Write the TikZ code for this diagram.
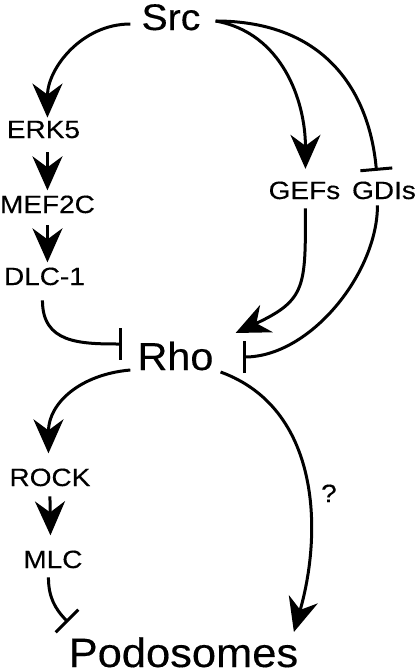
\documentclass[tikz,border=0pt]{standalone}
\usepackage{fontspec}
\setmainfont{Liberation Sans}
\newfontfamily\protfont{Liberation Sans}[FakeStretch=1.12,FakeBold=0.3]
\newfontfamily\hubfont{Liberation Sans}[FakeStretch=1.06,FakeBold=0.3]
\usetikzlibrary{arrows.meta}

\tikzset{
  prot/.style={inner sep=0pt, anchor=base, font=\protfont\fontsize{25}{30}\selectfont},
  hub/.style={inner sep=0pt, anchor=base, font=\hubfont\fontsize{#1}{#1}\selectfont},
  act/.style={line width=3pt, -{Stealth[length=34pt,width=30pt,inset=11pt]}},
  inh/.style={line width=3pt, -{Bar[width=32pt]}},
}

\begin{document}
\begin{tikzpicture}[x=1pt,y=-1pt]

      \path[fill=white] (0,0) rectangle (416,672);

      \node[hub=37] at (170.5,30) (src) {Src};
      \node[prot] at (43,138) (erk) {ERK5};
      \node[prot] at (47,213) (mef) {MEF2C};
      \node[prot] at (44,285) (dlc) {DLC-1};
      \node[prot] at (304,199) (gef) {GEFs};
      \node[prot] at (383.5,199) (gdi) {GDIs};
      \node[hub=39] at (175,370) (rho) {Rho};
      \node[prot] at (49.5,486) (rock) {ROCK};
      \node[prot] at (52.5,568) (mlc) {MLC};
      \node[hub=41] at (183,667) (pod) {Podosomes};
      \node[prot] at (328.5,502) (q) {?};

      % left branch
      \draw[act] ([xshift=-11pt,yshift=6pt] src.base west) to [out=180,in=90] ([xshift=4pt,yshift=3pt] erk.north);
      \draw[act] ([xshift=4pt,yshift=-14pt] erk.south) to ([yshift=5pt] mef.north);
      \draw[act] ([yshift=-12pt] mef.south) to ([xshift=3pt,yshift=5pt] dlc.north);
      \draw[inh] ([xshift=-2pt,yshift=-15pt] dlc.south) to [out=-90,in=180,looseness=1.2] ([xshift=-15pt,yshift=26pt] rho.base west);

      % right branch
      \draw[act] ([xshift=15pt,yshift=9pt] src.base east) to [out=-10,in=90] ([xshift=1pt,yshift=12.5pt] gef.north);
      \draw[inh] ([xshift=15pt,yshift=9pt] src.base east) to [out=0,in=95,out looseness=1.3,in looseness=0.9] ([xshift=-7.5pt,yshift=10.5pt] gdi.north);
      \draw[act] ([xshift=1pt,yshift=-9pt] gef.south) to [out=-90,in=25,looseness=1.4] ([xshift=22pt,yshift=37pt] rho.base east);
      \draw[inh] ([xshift=-6.5pt,yshift=-6pt] gdi.south) to [out=-90,in=0,looseness=0.85] ([xshift=29pt,yshift=13pt] rho.base east);

      % below Rho
      \draw[act] ([xshift=-7pt] rho.base west) to [out=185,in=90,looseness=1.1] ([xshift=-1.5pt,yshift=15pt] rock.north);
      \draw[act] ([yshift=-10pt] rock.south) to ([xshift=-2.5pt,yshift=15pt] mlc.north);
      \draw[inh] ([xshift=-4.5pt,yshift=-9pt] mlc.south) to [out=-90,in=135] ([xshift=-0.5pt,yshift=45pt] pod.base west);
      \draw[act] ([xshift=7pt,yshift=-2pt] rho.base east) to [out=-20,in=74] ([xshift=-4.5pt,yshift=35pt] pod.base east);
    \end{tikzpicture}
\end{document}
